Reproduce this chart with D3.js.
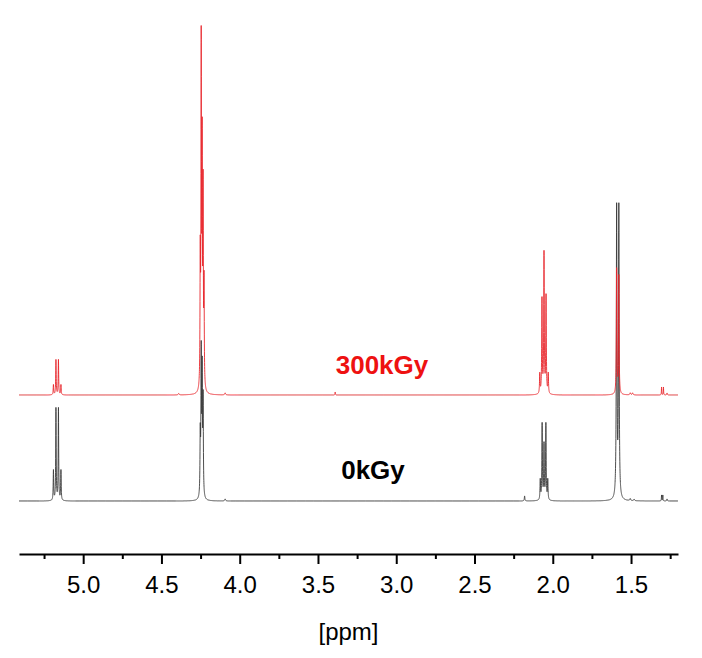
<!DOCTYPE html>
<html>
<head>
<meta charset="utf-8">
<script src="https://cdn.jsdelivr.net/npm/d3@7"></script>
<style>
  body { margin: 0; background: #fff; }
  text { font-family: "Liberation Sans", Arial, sans-serif; }
</style>
</head>
<body>
<div class="chart"></div>
<script>
// x axis (ppm)
var ppmDomain = [5.41, 1.2];
var majorTicks = [5.0, 4.5, 4.0, 3.5, 3.0, 2.5, 2.0, 1.5];
var minorTicks = [5.25, 4.75, 4.25, 3.75, 3.25, 2.75, 2.25, 1.75, 1.25];

// spectra: peak lists [ppm, intensity, half width]
var seriesNames = ["0kGy", "300kGy"];
var seriesOffsets = [0, 106];

var peaks0kGy = [
  [5.190, 30, 0.0018], [5.174, 92, 0.0018], [5.158, 92, 0.0018], [5.142, 30, 0.0018],
  [4.252, 60, 0.0020], [4.246, 140, 0.0020], [4.240, 120, 0.0020], [4.234, 95, 0.0020],
  [4.093, 2, 0.003],
  [2.180, 5, 0.002],
  [2.080, 20, 0.0020], [2.068, 76, 0.0020], [2.056, 55, 0.0020], [2.044, 76, 0.0020], [2.032, 20, 0.0020],
  [1.592, 290, 0.0024], [1.578, 290, 0.0024],
  [1.505, 2, 0.003], [1.480, 1.5, 0.003],
  [1.305, 6, 0.0012], [1.297, 6, 0.0012], [1.270, 2, 0.002]
];

var peaks300kGy = [
  [5.190, 10, 0.0018], [5.174, 35, 0.0018], [5.158, 35, 0.0018], [5.142, 10, 0.0018],
  [4.390, 1.5, 0.003],
  [4.252, 125, 0.0018], [4.246, 335, 0.0018], [4.240, 230, 0.0018], [4.234, 190, 0.0018], [4.228, 100, 0.0018],
  [4.093, 2, 0.003],
  [3.390, 3, 0.0015],
  [2.083, 20, 0.0020], [2.069, 95, 0.0020], [2.056, 140, 0.0020], [2.043, 98, 0.0020], [2.029, 20, 0.0020],
  [1.592, 125, 0.0020], [1.578, 118, 0.0020],
  [1.505, 2, 0.003], [1.490, 2, 0.003],
  [1.305, 8, 0.0012], [1.293, 8, 0.0012], [1.270, 2, 0.002]
];

var seriesColors = ["#3a3a3a", "#e8262b"];
var labelColors = ["#000000", "#ee1111"];

var width = 702, height = 658;

var svg = d3.select('.chart').append('svg')
  .attr('width', width)
  .attr('height', height)
  .style('background', '#fff');

var x = d3.scaleLinear().domain(ppmDomain).range([19, 678]);
var y = d3.scaleLinear().domain([0, 500]).range([501, 1]);

// build each trace as a sum of Lorentzian lines
function spectrum(peaks, offset) {
  var pts = [];
  var step = 0.0004;
  for (var p = ppmDomain[0]; p >= ppmDomain[1]; p -= step) {
    var v = 0;
    peaks.forEach(function (pk) {
      var d = (p - pk[0]) / pk[2];
      v += pk[1] / (1 + d * d);
    });
    pts.push([p, v + offset]);
  }
  return pts;
}

var line = d3.line()
  .x(function (d) { return x(d[0]); })
  .y(function (d) { return y(d[1]); });

[peaks0kGy, peaks300kGy].forEach(function (pk, i) {
  svg.append('path')
    .datum(spectrum(pk, seriesOffsets[i]))
    .attr('fill', 'none')
    .attr('stroke', seriesColors[i])
    .attr('stroke-width', 0.9)
    .attr('d', line);
});

// series labels
svg.append('text')
  .attr('x', 382).attr('y', y(seriesOffsets[1]) - 21)
  .attr('text-anchor', 'middle')
  .attr('fill', labelColors[1])
  .style('font-size', '26px')
  .style('font-weight', 'bold')
  .text(seriesNames[1]);

svg.append('text')
  .attr('x', 373).attr('y', y(seriesOffsets[0]) - 22)
  .attr('text-anchor', 'middle')
  .attr('fill', labelColors[0])
  .style('font-size', '26px')
  .style('font-weight', 'bold')
  .text(seriesNames[0]);

// axis
var axisY = 554;
var xAxis = d3.axisBottom(x)
  .tickValues(majorTicks)
  .tickFormat(d3.format('.1f'))
  .tickSize(10)
  .tickSizeOuter(0)
  .tickPadding(12);

var minorAxis = d3.axisBottom(x)
  .tickValues(minorTicks)
  .tickFormat('')
  .tickSize(5)
  .tickSizeOuter(0);

var gMinor = svg.append('g')
  .attr('transform', 'translate(0,' + axisY + ')')
  .call(minorAxis);
gMinor.select('.domain').remove();
gMinor.selectAll('line').attr('stroke-width', 2);

var gAxis = svg.append('g')
  .attr('transform', 'translate(0,' + axisY + ')')
  .call(xAxis);
gAxis.select('.domain').attr('stroke-width', 2);
gAxis.selectAll('line').attr('stroke-width', 2);
gAxis.selectAll('text')
  .style('font-size', '24px')
  .style('font-family', '"Liberation Sans", Arial, sans-serif')
  .attr('fill', '#000');

svg.append('text')
  .attr('x', (x.range()[0] + x.range()[1]) / 2)
  .attr('y', 640)
  .attr('text-anchor', 'middle')
  .style('font-size', '24px')
  .text('[ppm]');
</script>
</body>
</html>
